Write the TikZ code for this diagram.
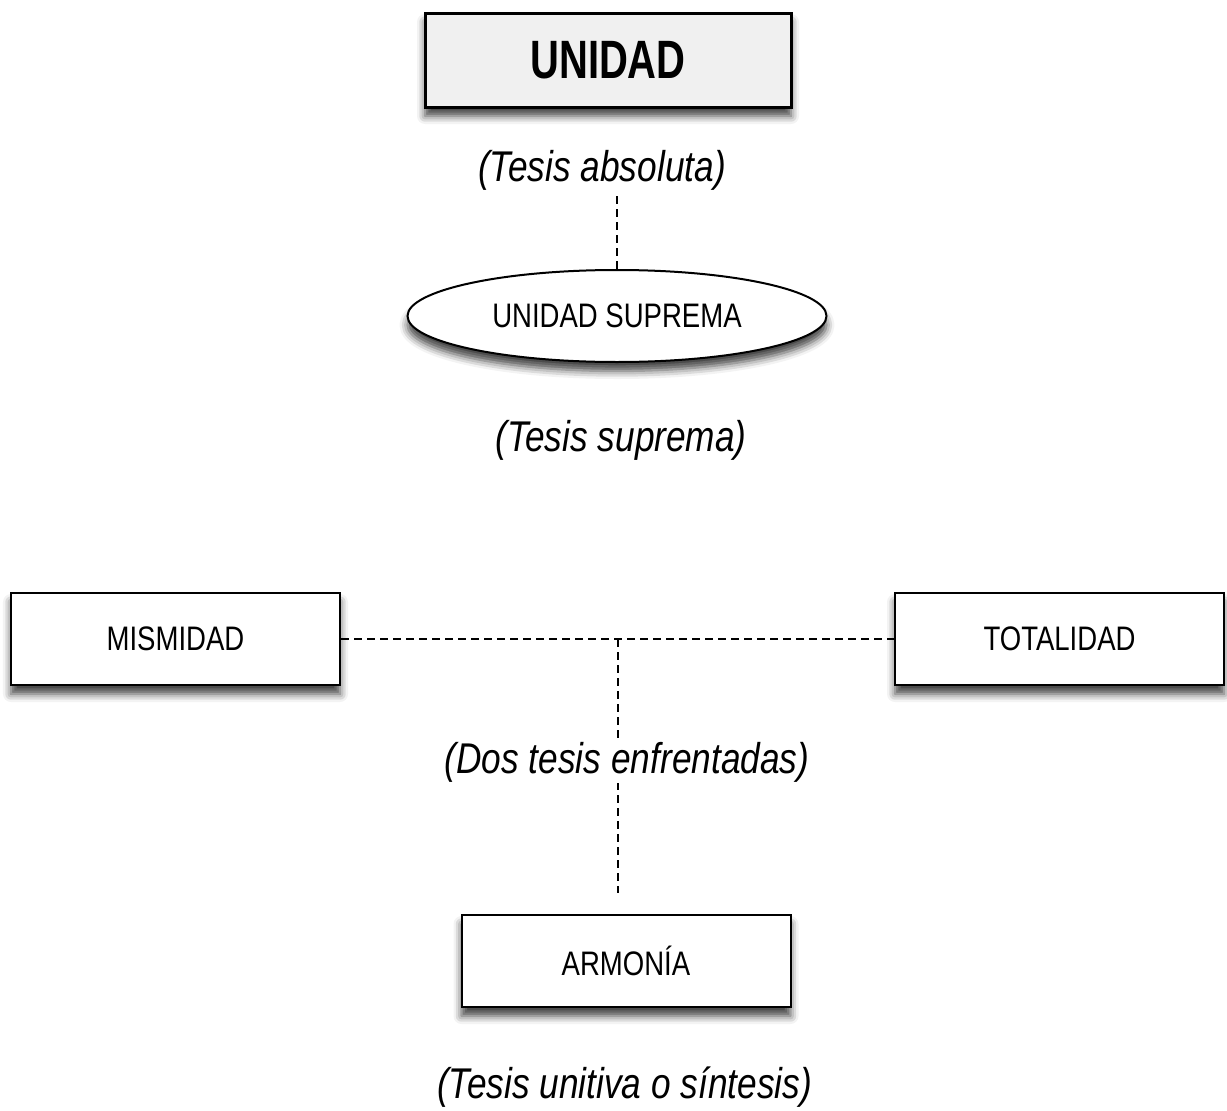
\documentclass[tikz,border=0pt]{standalone}
\usepackage{fontspec}
\setmainfont{Liberation Sans}
\newfontfamily\narfont[FakeStretch=0.81]{Liberation Sans}
\newfontfamily\narbfont[FakeStretch=0.74]{Liberation Sans}
\newfontfamily\narifont[FakeStretch=0.82]{Liberation Sans}
\usetikzlibrary{shapes.geometric,shadows.blur,backgrounds}
\begin{document}
\begin{tikzpicture}[x=1pt,y=-1pt,
  shad/.style={blur shadow={shadow xshift=0pt, shadow yshift=-9pt, shadow blur radius=8pt, shadow opacity=75}},
  box/.style={draw=black, line width=2pt, fill=white, minimum width=329pt, minimum height=92pt, inner sep=0pt, shad, font=\narfont\fontsize{34}{38}\selectfont},
  note/.style={font=\narifont\itshape\fontsize{43}{48}\selectfont, fill=white, inner sep=1pt},
  conn/.style={line width=1.8pt, dash pattern=on 8pt off 5pt}]
\useasboundingbox (0,0) rectangle (1227,1111);
\node[box, line width=3pt, fill=gray!12, minimum width=366pt, minimum height=94pt, font=\narbfont\bfseries\fontsize{54}{60}\selectfont] (unidad) at (608,60) {UNIDAD};
\node[note] (tabs) at (602,170) {(Tesis absoluta)};
\node[draw=black, ellipse, line width=2pt, fill=white, minimum width=419pt, minimum height=92pt, inner sep=0pt, shad, font=\narfont\fontsize{34}{38}\selectfont] (sup) at (617,316) {UNIDAD SUPREMA};
\node[note] (tsup) at (621,440) {(Tesis suprema)};
\node[box] (mis) at (175.5,639) {MISMIDAD};
\node[box] (tot) at (1059.5,639) {TOTALIDAD};
\node[box] (arm) at (626,961) {ARMONÍA};
\node[note] (tdos) at (627,762) {(Dos tesis enfrentadas)};
\node[note] (tuni) at (624.5,1087) {(Tesis unitiva o síntesis)};
\coordinate (j) at (618,639);
\coordinate (aend) at (618,893);
\begin{scope}[on background layer]
\draw[conn] (sup.north |- tabs.center) -- (sup.north);
\draw[conn] (mis.east) -- (tot.west);
\draw[conn] (j) -- (aend);
\end{scope}
\end{tikzpicture}
\end{document}
